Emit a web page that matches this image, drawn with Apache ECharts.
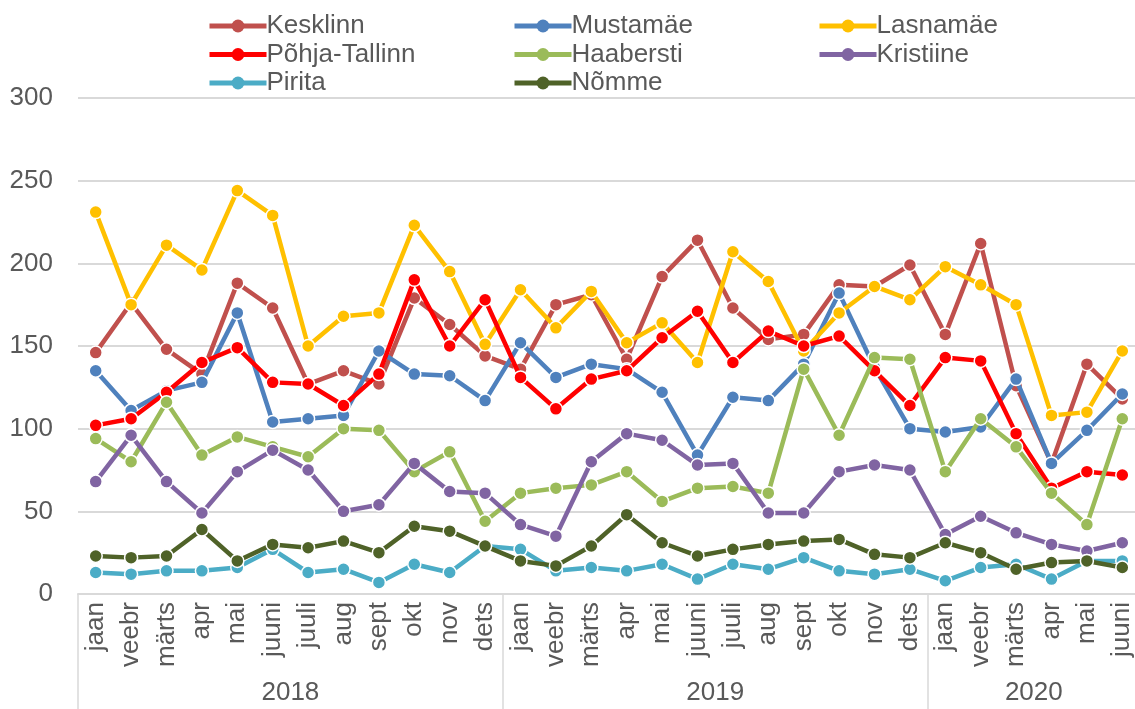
<!DOCTYPE html>
<html><head><meta charset="utf-8">
<script src="https://cdn.jsdelivr.net/npm/echarts@6/dist/echarts.min.js"></script>
<style>html,body{margin:0;padding:0;background:#fff}#c{width:1135px;height:709px}</style>
</head><body><div id="c"></div>
<script>
const monthNames = ['jaan','veebr','märts','apr','mai','juuni','juuli','aug','sept','okt','nov','dets'];
const years = ['2018','2019','2020'];
const monthsInYear = [12,12,6];
const yTicks = [0,50,100,150,200,250,300];

const seriesNames = ['Kesklinn','Mustamäe','Lasnamäe','Põhja-Tallinn','Haabersti','Kristiine','Pirita','Nõmme'];
const seriesColors = ['#C0504D','#4F81BD','#FFC000','#FF0000','#9BBB59','#8064A2','#4BACC6','#4F6228'];

const kesklinn    = [146,176,148,133,188,173,127,135,127,179,163,144, 136,175,181,142,192,214,173,154,157,187,186,199, 157,212,126,79,139,118];
const mustamae    = [135,111,123,128,170,104,106,108,147,133,132,117, 152,131,139,136,122,84,119,117,139,182,137,100, 98,101,130,79,99,121];
const lasnamae    = [231,175,211,196,244,229,150,168,170,223,195,151, 184,161,183,152,164,140,207,189,147,170,186,178, 198,187,175,108,110,147];
const pohjaTallinn= [102,106,122,140,149,128,127,114,133,190,150,178, 131,112,130,135,155,171,140,159,150,156,135,114, 143,141,97,64,74,72];
const haabersti   = [94,80,116,84,95,89,83,100,99,74,86,44, 61,64,66,74,56,64,65,61,136,96,143,142, 74,106,89,61,42,106];
const kristiine   = [68,96,68,49,74,87,75,50,54,79,62,61, 42,35,80,97,93,78,79,49,49,74,78,75, 36,47,37,30,26,31];
const pirita      = [13,12,14,14,16,27,13,15,7,18,13,29, 27,14,16,14,18,9,18,15,22,14,12,15, 8,16,18,9,20,20];
const nomme       = [23,22,23,39,20,30,28,32,25,41,38,29, 20,17,29,48,31,23,27,30,32,33,24,22, 31,25,15,19,20,16];

const allData = [kesklinn,mustamae,lasnamae,pohjaTallinn,haabersti,kristiine,pirita,nomme];

const categories = [];
monthsInYear.forEach((n)=>{ for(let i=0;i<n;i++) categories.push(monthNames[i]); });
const total = categories.length;
const yearAxisData = new Array(total*2+1).fill('');
const boundaries = [0];
let acc = 0;
monthsInYear.forEach((n,k)=>{ yearAxisData[acc*2 + n] = years[k]; acc += n; boundaries.push(acc*2); });

const FONT = 'Liberation Sans, Arial, sans-serif';
const TXT = '#595959';
const FS = 26;

const series = seriesNames.map((name,i)=>({
  name, type:'line', data: allData[i], xAxisIndex:0, yAxisIndex:0,
  symbol:'circle', symbolSize:13, showSymbol:true,
  lineStyle:{color:seriesColors[i], width:4.5},
  itemStyle:{color:seriesColors[i], borderColor:'#fff', borderWidth:1.5},
  emphasis:{disabled:true}, animation:false, z: 2+i
}));

const legendBase = {
  orient:'vertical', top:8, itemWidth:57, itemHeight:16, itemGap:2.5,
  lineStyle:{width:5},
  itemStyle:{borderWidth:0},
  textStyle:{fontSize:FS, lineHeight:26, color:TXT, fontFamily:FONT, padding:[0,0,0,-5]},
  selectedMode:false
};

const chart = echarts.init(document.getElementById('c'), null, {renderer:'canvas'});
chart.setOption({
  animation:false,
  textStyle:{fontFamily:FONT},
  legend:[
    Object.assign({}, legendBase, {left:202, data:['Kesklinn','Põhja-Tallinn','Pirita']}),
    Object.assign({}, legendBase, {left:507, data:['Mustamäe','Haabersti','Nõmme']}),
    Object.assign({}, legendBase, {left:812, data:['Lasnamäe','Kristiine']})
  ],
  grid:{left:78, top:98, width:1062, height:496, containLabel:false, outerBoundsMode:'none'},
  xAxis:[
    {type:'category', data:categories, boundaryGap:true, position:'bottom',
     axisLine:{show:true, lineStyle:{color:'#d9d9d9', width:2}},
     axisTick:{show:false},
     axisLabel:{interval:0, rotate:90, fontSize:FS, color:TXT, fontFamily:FONT, margin:8}},
    {type:'category', data:yearAxisData, boundaryGap:false, position:'bottom',
     axisLine:{show:false},
     axisTick:{show:true, length:115, interval:(i)=>boundaries.indexOf(i)>=0, lineStyle:{color:'#d9d9d9', width:1.5}},
     axisLabel:{interval:0, fontSize:FS, color:TXT, fontFamily:FONT, margin:86},
     splitLine:{show:false}}
  ],
  yAxis:{type:'value', min:yTicks[0], max:yTicks[yTicks.length-1], interval:yTicks[1]-yTicks[0],
    axisLine:{show:false}, axisTick:{show:false},
    axisLabel:{fontSize:FS, color:TXT, fontFamily:FONT, margin:25},
    splitLine:{lineStyle:{color:'#d9d9d9', width:2}}},
  series
});
</script></body></html>
